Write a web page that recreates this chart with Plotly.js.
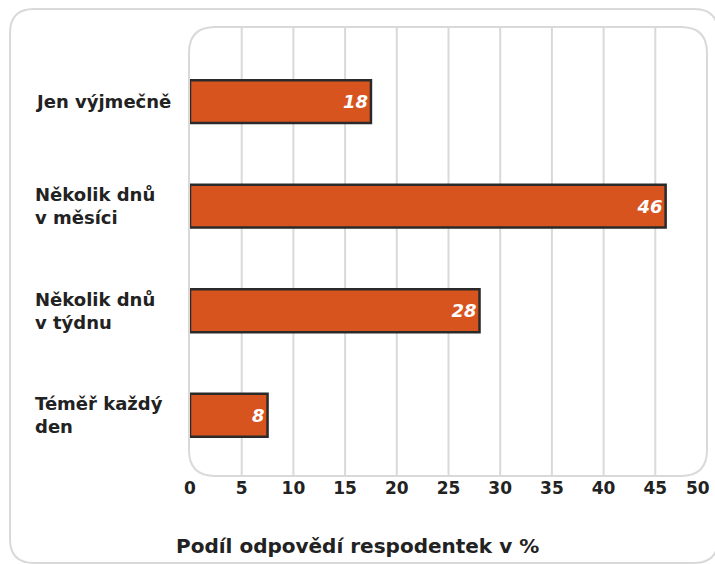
<!DOCTYPE html>
<html>
<head>
<meta charset="utf-8">
<script src="https://cdn.plot.ly/plotly-3.0.1.min.js"></script>
<style>
  html, body { margin: 0; padding: 0; background: #ffffff; }
  #chart { width: 715px; height: 564px; }
</style>
</head>
<body>
<div id="chart"></div>
<script>
// ---- data ----
const categories = ['Jen výjmečně', 'Několik dnů<br>v měsíci', 'Několik dnů<br>v týdnu', 'Téměř každý<br>den'];
const values = [17.5, 46, 28, 7.5];
const valueLabels = ['18', '46', '28', '8'];
const xTickVals = [0, 5, 10, 15, 20, 25, 30, 35, 40, 45, 50];
const gridVals = [5, 10, 15, 20, 25, 30, 35, 40, 45];
const xTitle = 'Podíl odpovědí respodentek v %';

// ---- layout geometry (pixels) ----
const FIG_W = 715, FIG_H = 564;
const M = { l: 190, r: 8, t: 27, b: 88 };
const PW = FIG_W - M.l - M.r;
const PH = FIG_H - M.t - M.b;
const px2x = p => (p - M.l) / PW;
const px2y = p => (M.t + PH - p) / PH;

function roundedRect(x0, y0, x1, y1, r) {
  const P = (x, y) => px2x(x).toFixed(5) + ',' + px2y(y).toFixed(5);
  return 'M' + P(x0 + r, y0) +
    ' L' + P(x1 - r, y0) +
    ' Q' + P(x1, y0) + ' ' + P(x1, y0 + r) +
    ' L' + P(x1, y1 - r) +
    ' Q' + P(x1, y1) + ' ' + P(x1 - r, y1) +
    ' L' + P(x0 + r, y1) +
    ' Q' + P(x0, y1) + ' ' + P(x0, y1 - r) +
    ' L' + P(x0, y0 + r) +
    ' Q' + P(x0, y0) + ' ' + P(x0 + r, y0) + ' Z';
}

const FONT = 'DejaVu Sans, Open Sans, sans-serif';
const TEXT_COLOR = '#222222';
const GRID = '#d9d9d9';
const TICK_FONT = { family: FONT, size: 17, color: TEXT_COLOR, weight: 'bold' };

const shapes = [];
// outer frame
shapes.push({
  type: 'path', xref: 'paper', yref: 'paper', layer: 'below',
  path: roundedRect(10, 9, 718, 563, 24),
  line: { color: GRID, width: 2 }, fillcolor: 'rgba(0,0,0,0)'
});
// plot area frame
shapes.push({
  type: 'path', xref: 'paper', yref: 'paper', layer: 'below',
  path: roundedRect(M.l - 1, M.t, M.l + PW, M.t + PH, 26),
  line: { color: GRID, width: 2 }, fillcolor: 'rgba(0,0,0,0)'
});
// grid lines
gridVals.forEach(v => shapes.push({
  type: 'line', xref: 'x', yref: 'paper', layer: 'below',
  x0: v, x1: v, y0: 0, y1: 1,
  line: { color: GRID, width: 2 }
}));

const annotations = categories.map(c => ({
  xref: 'paper', yref: 'y', x: px2x(33), y: c,
  xanchor: 'left', yanchor: 'middle', align: 'left',
  text: c, showarrow: false,
  font: { family: FONT, size: 18, color: TEXT_COLOR, weight: 'bold' }
}));
// last tick label (at the right edge of the axis), kept inside the page
const lastTick = xTickVals[xTickVals.length - 1];
annotations.push({
  xref: 'x', yref: 'paper', x: lastTick, y: px2y(488),
  xanchor: 'right', yanchor: 'middle', xshift: 5,
  text: String(lastTick), showarrow: false,
  font: TICK_FONT
});
annotations.push({
  xref: 'paper', yref: 'paper', x: px2x(357), y: px2y(546),
  xanchor: 'center', yanchor: 'middle',
  text: xTitle, showarrow: false,
  font: { family: FONT, size: 20, color: TEXT_COLOR, weight: 'bold' }
});

const trace = {
  type: 'bar', orientation: 'h',
  y: categories, x: values,
  width: 0.41,
  marker: { color: '#d8541f', line: { color: '#2a2a2a', width: 2.5 } },
  text: valueLabels,
  textposition: 'inside', insidetextanchor: 'end',
  textfont: { family: FONT, size: 18, color: '#ffffff', style: 'italic', weight: 'bold' },
  constraintext: 'none',
  cliponaxis: false,
  hoverinfo: 'skip'
};

const nativeTicks = xTickVals.slice(0, -1);
const layout = {
  width: FIG_W, height: FIG_H,
  margin: M,
  paper_bgcolor: '#ffffff', plot_bgcolor: 'rgba(0,0,0,0)',
  showlegend: false,
  xaxis: {
    range: [0, 50], tickvals: nativeTicks, ticktext: nativeTicks.map(String),
    showgrid: false, zeroline: false, showline: false, ticks: '',
    tickfont: TICK_FONT,
    fixedrange: true
  },
  yaxis: {
    type: 'category', categoryorder: 'array', categoryarray: categories,
    range: [3.581, -0.714],
    showgrid: false, zeroline: false, showline: false, ticks: '',
    showticklabels: false, fixedrange: true
  },
  shapes: shapes,
  annotations: annotations
};

Plotly.newPlot('chart', [trace], layout, { displayModeBar: false, staticPlot: true });
</script>
</body>
</html>
